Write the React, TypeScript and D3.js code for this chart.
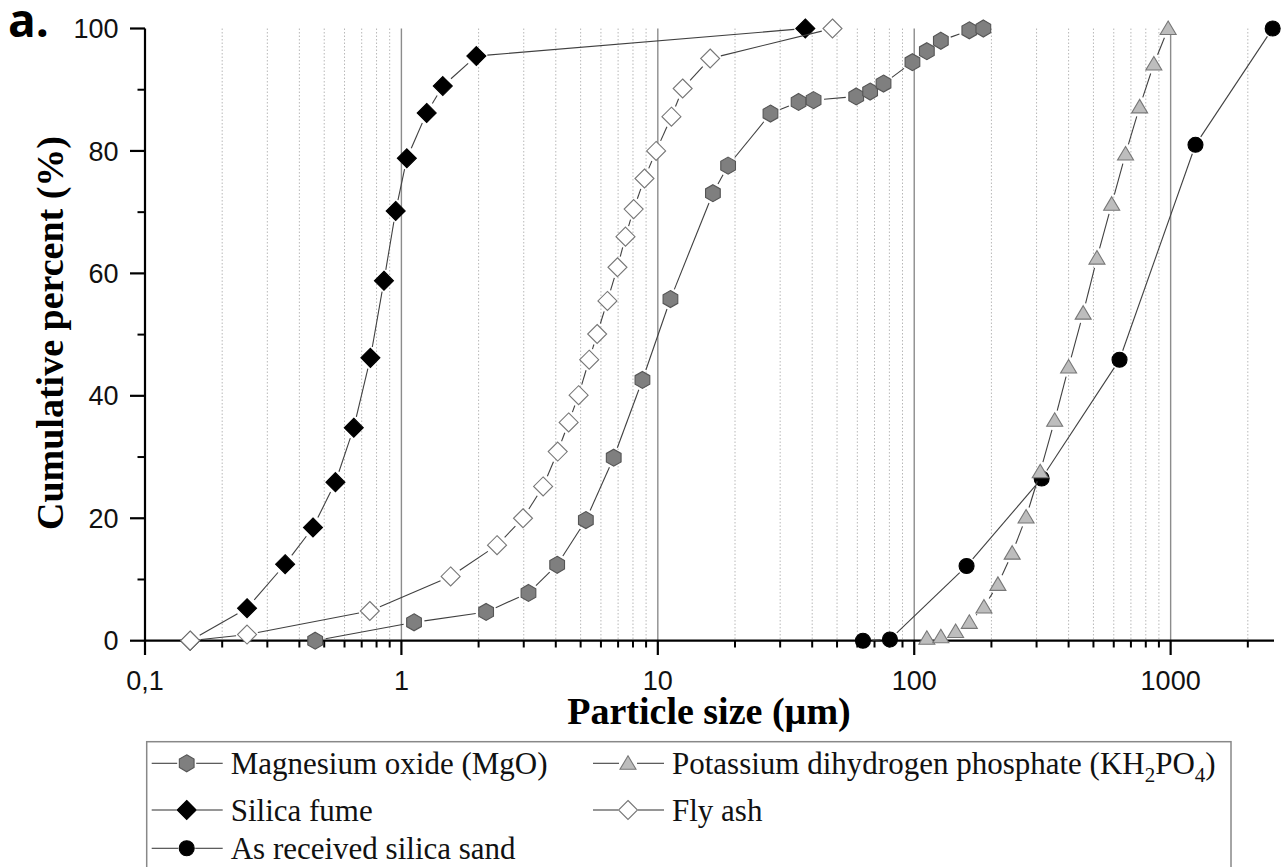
import React from 'react';
import * as d3 from 'd3';

// ---- Data ----
const mgoSize = [0.461, 1.12, 2.14, 3.13, 4.05, 5.24, 6.73, 8.71, 11.2, 16.4, 18.8, 27.5, 35.4, 40.5, 59.4, 67.3, 75.9, 98.4, 112, 127, 164, 186];
const mgoPct = [0, 3.0, 4.7, 7.8, 12.4, 19.7, 29.9, 42.6, 55.8, 73.1, 77.6, 86.1, 88.0, 88.3, 88.9, 89.7, 91.0, 94.5, 96.3, 98.0, 99.7, 100];

const kh2po4Size = [112, 127, 145, 164, 187, 212, 241, 273, 310, 353, 400, 456, 516, 589, 667, 757, 860, 978];
const kh2po4Pct = [0.4, 0.65, 1.5, 3.0, 5.5, 9.2, 14.3, 20.2, 27.6, 36.0, 44.7, 53.5, 62.5, 71.3, 79.5, 87.2, 94.2, 100];

const silicaFumeSize = [0.15, 0.25, 0.352, 0.452, 0.553, 0.652, 0.757, 0.855, 0.95, 1.05, 1.255, 1.45, 1.96, 37.6];
const silicaFumePct = [0, 5.3, 12.5, 18.5, 25.9, 34.8, 46.2, 58.8, 70.2, 78.8, 86.2, 90.6, 95.5, 100];

const flyAshSize = [0.15, 0.25, 0.753, 1.556, 2.36, 2.98, 3.57, 4.07, 4.49, 4.91, 5.40, 5.80, 6.36, 6.96, 7.48, 8.05, 8.87, 9.85, 11.3, 12.5, 16.0, 48];
const flyAshPct = [0, 1.0, 4.85, 10.5, 15.6, 20.0, 25.2, 30.9, 35.65, 40.1, 45.9, 50.1, 55.5, 61.0, 66.0, 70.5, 75.5, 80.0, 85.6, 90.2, 95.1, 100];

const sandSize = [63.1, 80.4, 160, 314, 632, 1250, 2500];
const sandPct = [0, 0.2, 12.2, 26.5, 45.9, 81.0, 100];

const xTickLabels = ['0,1', '1', '10', '100', '1000'];
const xTickValues = [0.1, 1, 10, 100, 1000];
const yTickValues = [0, 20, 40, 60, 80, 100];
const yMinorValues = [10, 30, 50, 70, 90];

// ---- Layout ----
const W = 1281;
const H = 867;
const x = d3.scaleLog().domain([0.1, 2530]).range([145, 1274]);
const y = d3.scaleLinear().domain([0, 100]).range([640.7, 28.5]);

const minorX: number[] = [];
[0.1, 1, 10, 100, 1000].forEach((d) => {
  for (let k = 2; k <= 9; k++) {
    const v = d * k;
    if (v <= 2530) minorX.push(v);
  }
});

type MarkerKind = 'hex' | 'tri' | 'diamond' | 'circle';

function markerPath(kind: MarkerKind): string {
  if (kind === 'hex') {
    const r = 8.5;
    const pts = d3.range(6).map((i) => {
      const a = ((-90 + 60 * i) * Math.PI) / 180;
      return [r * Math.cos(a), r * Math.sin(a)];
    });
    return 'M' + pts.map((p) => p.join(',')).join('L') + 'Z';
  }
  if (kind === 'tri') {
    return 'M0,-7.5L8,6L-8,6Z';
  }
  if (kind === 'diamond') {
    const r = 9.5;
    return `M0,${-r}L${r},0L0,${r}L${-r},0Z`;
  }
  const r = 7.5;
  return `M${r},0A${r},${r} 0 1,1 ${-r},0A${r},${r} 0 1,1 ${r},0Z`;
}

interface Series {
  name: string;
  sizes: number[];
  pcts: number[];
  marker: MarkerKind;
  fill: string;
  stroke: string;
  gap: number;
}

const mgo: Series = { name: 'mgo', sizes: mgoSize, pcts: mgoPct, marker: 'hex', fill: '#7f7f7f', stroke: '#555', gap: 10.5 };
const kh: Series = { name: 'kh', sizes: kh2po4Size, pcts: kh2po4Pct, marker: 'tri', fill: '#bdbdbd', stroke: '#777', gap: 10 };
const sf: Series = { name: 'sf', sizes: silicaFumeSize, pcts: silicaFumePct, marker: 'diamond', fill: '#000', stroke: '#000', gap: 11 };
const fa: Series = { name: 'fa', sizes: flyAshSize, pcts: flyAshPct, marker: 'diamond', fill: '#fff', stroke: '#777', gap: 11 };
const sand: Series = { name: 'sand', sizes: sandSize, pcts: sandPct, marker: 'circle', fill: '#000', stroke: '#000', gap: 9.5 };

const drawOrder = [sand, mgo, sf, fa, kh];

function Segments({ s }: { s: Series }) {
  const pts = s.sizes.map((v, i) => [x(v), y(s.pcts[i])]);
  const segs: JSX.Element[] = [];
  for (let i = 0; i < pts.length - 1; i++) {
    const [x0, y0] = pts[i];
    const [x1, y1] = pts[i + 1];
    const dx = x1 - x0;
    const dy = y1 - y0;
    const len = Math.hypot(dx, dy);
    if (len <= 2 * s.gap) continue;
    const ux = dx / len;
    const uy = dy / len;
    segs.push(
      <line
        key={i}
        x1={x0 + ux * s.gap}
        y1={y0 + uy * s.gap}
        x2={x1 - ux * s.gap}
        y2={y1 - uy * s.gap}
        stroke="#404040"
        strokeWidth={1.1}
      />
    );
  }
  return <g>{segs}</g>;
}

function Markers({ s }: { s: Series }) {
  const d = markerPath(s.marker);
  return (
    <g>
      {s.sizes.map((v, i) => (
        <path
          key={i}
          d={d}
          transform={`translate(${x(v)},${y(s.pcts[i])})`}
          fill={s.fill}
          stroke={s.stroke}
          strokeWidth={1.1}
        />
      ))}
    </g>
  );
}

function LegendItem({ s, lx, ly, children }: { s: Series; lx: number; ly: number; children: React.ReactNode }) {
  // lx = left of line sample, ly = marker centre y
  const mx = lx + 35;
  return (
    <g>
      <line x1={lx} y1={ly} x2={mx - s.gap + 1} y2={ly} stroke="#404040" strokeWidth={1.1} />
      <line x1={mx + s.gap - 1} y1={ly} x2={lx + 71} y2={ly} stroke="#404040" strokeWidth={1.1} />
      <path d={markerPath(s.marker)} transform={`translate(${mx},${ly})`} fill={s.fill} stroke={s.stroke} strokeWidth={1.1} />
      <text x={lx + 79} y={ly + 10.7} fontFamily="'Liberation Serif', 'Times New Roman', serif" fontSize={31} fill="#111">
        {children}
      </text>
    </g>
  );
}

export default function App() {
  const axisFont = "'Liberation Sans', Arial, sans-serif";
  const serif = "'Liberation Serif', 'Times New Roman', serif";
  return (
    <svg
      width={W}
      height={H}
      viewBox={`0 0 ${W} ${H}`}
      style={{ position: 'absolute', left: 0, top: 0, display: 'block', background: '#fff' }}
    >
      <rect x={0} y={0} width={W} height={H} fill="#fff" />

      {/* minor dotted grid */}
      {minorX.map((v) => (
        <line key={'mg' + v} x1={x(v)} x2={x(v)} y1={y(100)} y2={y(0)} stroke="#b8b8b8" strokeWidth={1} strokeDasharray="1.5,2" />
      ))}
      {/* major grid */}
      {xTickValues.slice(1).map((v) => (
        <line key={'MG' + v} x1={x(v)} x2={x(v)} y1={y(100)} y2={y(0)} stroke="#8c8c8c" strokeWidth={1.4} />
      ))}

      {/* axes */}
      <line x1={x(0.1)} x2={x(0.1)} y1={y(100)} y2={y(0) + 1} stroke="#000" strokeWidth={2.2} />
      <line x1={x(0.1)} x2={1274} y1={y(0)} y2={y(0)} stroke="#000" strokeWidth={2.2} />
      {yTickValues.map((v) => (
        <g key={'yt' + v}>
          <line x1={130} x2={x(0.1)} y1={y(v)} y2={y(v)} stroke="#000" strokeWidth={2.2} />
          <text x={118.5} y={y(v) + 9.6} textAnchor="end" fontFamily={axisFont} fontSize={27} fill="#111">
            {v}
          </text>
        </g>
      ))}
      {yMinorValues.map((v) => (
        <line key={'ym' + v} x1={137.5} x2={x(0.1)} y1={y(v)} y2={y(v)} stroke="#000" strokeWidth={2} />
      ))}
      {xTickValues.map((v, i) => (
        <g key={'xt' + v}>
          <line x1={x(v)} x2={x(v)} y1={y(0)} y2={655} stroke="#000" strokeWidth={2.2} />
          <text x={x(v)} y={689.5} textAnchor="middle" fontFamily={axisFont} fontSize={27} fill="#111">
            {xTickLabels[i]}
          </text>
        </g>
      ))}
      {minorX.map((v) => (
        <line key={'xm' + v} x1={x(v)} x2={x(v)} y1={y(0)} y2={647.5} stroke="#000" strokeWidth={2} />
      ))}

      {/* titles */}
      <text x={709} y={724.3} textAnchor="middle" fontFamily={serif} fontWeight="bold" fontSize={38} fill="#000">
        Particle size (µm)
      </text>
      <text
        transform="translate(63,333) rotate(-90)"
        textAnchor="middle"
        fontFamily={serif}
        fontWeight="bold"
        fontSize={38}
        fill="#000"
      >
        Cumulative percent (%)
      </text>
      <text x={8} y={37} fontFamily="'Open Sans', 'Noto Sans', sans-serif" fontWeight="bold" fontSize={46} fill="#000">
        a.
      </text>

      {/* data */}
      {drawOrder.map((s) => (
        <g key={s.name}>
          <Segments s={s} />
          <Markers s={s} />
        </g>
      ))}

      {/* legend */}
      <rect x={146.7} y={741.7} width={1084.3} height={200} fill="none" stroke="#888" strokeWidth={1.5} />
      <LegendItem s={mgo} lx={151.7} ly={763.3}>Magnesium oxide (MgO)</LegendItem>
      <LegendItem s={kh} lx={593} ly={763.3}>
        Potassium dihydrogen phosphate (KH
        <tspan fontSize={21} dy={8}>2</tspan>
        <tspan dy={-8}>PO</tspan>
        <tspan fontSize={21} dy={8}>4</tspan>
        <tspan dy={-8}>)</tspan>
      </LegendItem>
      <LegendItem s={sf} lx={151.7} ly={810}>Silica fume</LegendItem>
      <LegendItem s={fa} lx={593} ly={810}>Fly ash</LegendItem>
      <LegendItem s={sand} lx={151.7} ly={848.3}>As received silica sand</LegendItem>
    </svg>
  );
}
